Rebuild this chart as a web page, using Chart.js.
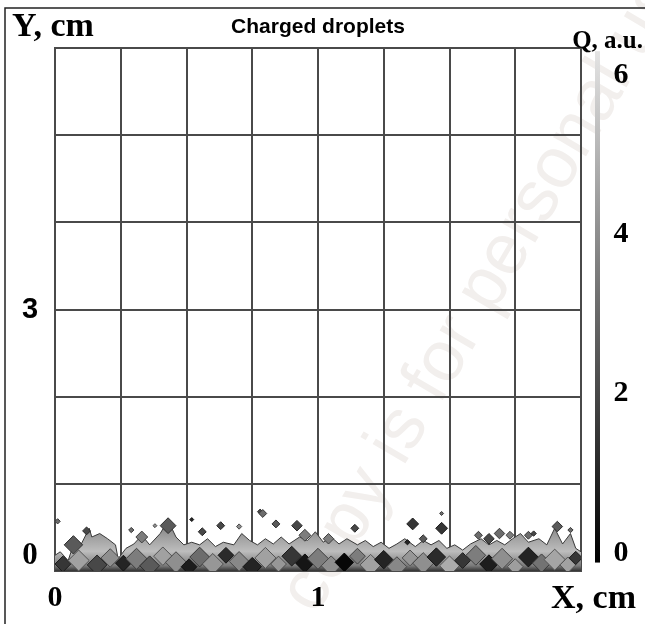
<!DOCTYPE html>
<html>
<head>
<meta charset="utf-8">
<script src="https://cdn.jsdelivr.net/npm/chart.js@4"></script>
<style>
  html, body { margin: 0; padding: 0; background: #fff; }
  #wrap { width: 645px; height: 624px; }
</style>
</head>
<body>
<div id="wrap"><canvas id="dropletChart" width="645" height="624"></canvas></div>
<script>
// axis labels
const xTickLabels = ['0', '1'];
const xTickValues = [0, 1];
const yTickLabels = ['0', '3'];
const yTickValues = [0, 3];
const qTickValues = [0, 2, 4, 6];

// upper edge of the dense droplet layer near the wall (cm)
const bandX = [0.00, 0.02, 0.05, 0.07, 0.10, 0.13, 0.14, 0.17, 0.20, 0.23, 0.24, 0.27, 0.30, 0.33, 0.36,
    0.40, 0.43, 0.46, 0.49, 0.52, 0.55, 0.58, 0.61, 0.64, 0.68, 0.71, 0.74, 0.77, 0.80, 0.83, 0.86,
    0.89, 0.93, 0.96, 0.99, 1.02, 1.05, 1.08, 1.11, 1.15, 1.18, 1.21, 1.24, 1.27, 1.30, 1.33, 1.37,
    1.40, 1.43, 1.46, 1.49, 1.52, 1.55, 1.58, 1.62, 1.65, 1.68, 1.71, 1.74, 1.77, 1.80, 1.84, 1.87,
    1.90, 1.93, 1.96, 1.98, 2.00];
const bandTop = [0.18, 0.22, 0.12, 0.30, 0.31, 0.49, 0.39, 0.43, 0.37, 0.30, 0.14, 0.26, 0.31, 0.41, 0.30,
    0.43, 0.58, 0.39, 0.30, 0.33, 0.30, 0.37, 0.28, 0.33, 0.30, 0.43, 0.35, 0.30, 0.37, 0.31, 0.39,
    0.31, 0.39, 0.35, 0.45, 0.33, 0.39, 0.31, 0.37, 0.30, 0.35, 0.28, 0.33, 0.26, 0.31, 0.37, 0.28,
    0.35, 0.30, 0.35, 0.26, 0.30, 0.24, 0.31, 0.37, 0.30, 0.35, 0.30, 0.37, 0.43, 0.33, 0.37, 0.30,
    0.49, 0.31, 0.43, 0.26, 0.22];

// individual droplets: position (cm), charge (a.u.), size (cm)
const dropX = [0.01, 0.07, 0.12, 0.29, 0.33, 0.38, 0.43, 0.52, 0.56, 0.63, 0.70, 0.78, 0.79, 0.84, 0.92,
    0.95, 1.04, 1.14, 1.36, 1.47, 1.47, 1.34, 1.40, 1.61, 1.65, 1.69, 1.73, 1.80, 1.91, 1.96, 1.82,
    0.03, 0.09, 0.16, 0.21, 0.26, 0.31, 0.36, 0.41, 0.46, 0.51, 0.55, 0.60, 0.65, 0.70, 0.75, 0.80,
    0.85, 0.90, 0.95, 1.00, 1.05, 1.10, 1.15, 1.20, 1.25, 1.30, 1.35, 1.40, 1.45, 1.50, 1.55, 1.60,
    1.65, 1.70, 1.75, 1.80, 1.85, 1.90, 1.95, 1.98];
const dropY = [0.57, 0.30, 0.46, 0.47, 0.39, 0.52, 0.52, 0.59, 0.45, 0.52, 0.51, 0.68, 0.66, 0.54, 0.52,
    0.41, 0.37, 0.49, 0.54, 0.66, 0.49, 0.33, 0.37, 0.41, 0.37, 0.43, 0.41, 0.41, 0.51, 0.47, 0.43,
    0.08, 0.12, 0.07, 0.15, 0.09, 0.14, 0.06, 0.17, 0.10, 0.05, 0.16, 0.08, 0.18, 0.11, 0.05, 0.15,
    0.08, 0.17, 0.09, 0.14, 0.06, 0.10, 0.17, 0.07, 0.13, 0.05, 0.15, 0.09, 0.16, 0.06, 0.12, 0.18,
    0.08, 0.14, 0.05, 0.16, 0.09, 0.13, 0.07, 0.15];
const dropQ = [3.0, 2.5, 2.0, 3.0, 3.5, 4.0, 2.5, 1.0, 2.0, 2.0, 4.0, 2.0, 3.0, 2.5, 2.0,
    3.5, 3.5, 2.0, 1.5, 3.0, 1.5, 1.0, 2.5, 3.0, 2.0, 3.0, 3.5, 3.0, 2.5, 3.0, 2.0,
    1.5, 4.5, 2.0, 4.0, 1.0, 3.5, 2.5, 4.5, 4.0, 0.8, 3.0, 4.2, 1.2, 3.8, 1.0, 4.5,
    4.2, 1.5, 0.6, 3.5, 4.0, 0.2, 3.5, 4.5, 1.0, 3.8, 4.2, 4.0, 1.2, 4.8, 1.5, 3.5,
    0.8, 4.0, 4.4, 1.0, 3.2, 4.6, 4.5, 1.5];
const dropSize = [0.02, 0.07, 0.03, 0.02, 0.045, 0.015, 0.06, 0.015, 0.03, 0.03, 0.02, 0.02, 0.03, 0.03, 0.04,
    0.045, 0.04, 0.03, 0.045, 0.015, 0.045, 0.02, 0.03, 0.03, 0.04, 0.04, 0.03, 0.03, 0.04, 0.02, 0.02,
    0.06, 0.08, 0.075, 0.07, 0.06, 0.08, 0.075, 0.07, 0.08, 0.06, 0.075, 0.08, 0.06, 0.075, 0.07, 0.08,
    0.06, 0.075, 0.07, 0.08, 0.075, 0.07, 0.06, 0.08, 0.07, 0.075, 0.06, 0.08, 0.07, 0.075, 0.06, 0.075,
    0.07, 0.08, 0.06, 0.075, 0.07, 0.08, 0.06, 0.05];

function qGray(q) {
    const v = Math.round(Math.max(0, Math.min(6, q)) / 6 * 215);
    return 'rgb(' + v + ',' + v + ',' + v + ')';
}

function qEdge(q) {
    const v = Math.round(Math.max(0, Math.min(6, q)) / 6 * 110);
    return 'rgb(' + v + ',' + v + ',' + v + ')';
}

const frameAndText = {
    id: 'frameAndText',
    beforeDraw(chart) {
        const ctx = chart.ctx;
        ctx.save();
        ctx.fillStyle = '#fff';
        ctx.fillRect(0, 0, chart.width, chart.height);
        // watermark
        ctx.translate(316, 616);
        ctx.rotate(-1.04);
        ctx.fillStyle = 'rgb(242, 239, 237)';
        ctx.font = '72px "Liberation Sans", Arial, sans-serif';
        ctx.textBaseline = 'alphabetic';
        ctx.fillText('copy is for personal use only', 0, 0);
        ctx.restore();

        ctx.save();
        ctx.strokeStyle = '#222';
        ctx.lineWidth = 1.5;
        ctx.beginPath();
        ctx.moveTo(5, chart.height);
        ctx.lineTo(5, 8);
        ctx.lineTo(chart.width, 8);
        ctx.stroke();
        ctx.restore();
    },
    afterDraw(chart) {
        const ctx = chart.ctx;
        const xs = chart.scales.x;
        const ys = chart.scales.y;
        const qs = chart.scales.q;
        const serif = '"Liberation Serif", "Times New Roman", serif';
        ctx.save();
        ctx.fillStyle = '#000';

        // colour bar
        const top = qs.getPixelForValue(6.3);
        const bot = qs.getPixelForValue(-0.12);
        const grad = ctx.createLinearGradient(0, bot, 0, top);
        grad.addColorStop(0, qGray(0));
        grad.addColorStop(0.5, qGray(3));
        grad.addColorStop(1, '#e4e4e4');
        ctx.fillStyle = grad;
        ctx.fillRect(595, top, 5, bot - top);

        ctx.fillStyle = '#000';
        ctx.textAlign = 'center';
        ctx.textBaseline = 'middle';
        ctx.font = 'bold 30px ' + serif;
        qTickValues.forEach(v => ctx.fillText(String(v), 621, qs.getPixelForValue(v)));

        // x ticks
        xTickValues.forEach((v, i) => ctx.fillText(xTickLabels[i], xs.getPixelForValue(v), 598));

        // y ticks
        yTickValues.forEach((v, i) => {
            ctx.font = v === 0 ? 'bold 31px ' + serif : 'bold 29px "Liberation Sans", Arial, sans-serif';
            const py = v === 0 ? ys.getPixelForValue(v) - 15 : ys.getPixelForValue(v);
            ctx.fillText(yTickLabels[i], 30, py);
        });

        // axis titles
        ctx.textBaseline = 'alphabetic';
        ctx.font = 'bold 34px ' + serif;
        ctx.textAlign = 'left';
        ctx.fillText('Y, cm', 12, 36);
        ctx.textAlign = 'right';
        ctx.fillText('X, cm', 636, 608);
        ctx.font = 'bold 25px ' + serif;
        ctx.fillText('Q, a.u.', 643, 48);

        ctx.textAlign = 'center';
        ctx.font = 'bold 21px "Liberation Sans", Arial, sans-serif';
        ctx.fillText('Charged droplets', 318, 33);
        ctx.restore();
    }
};

new Chart(document.getElementById('dropletChart'), {
    type: 'scatter',
    data: {
        datasets: [{
            type: 'line',
            label: 'layer',
            data: bandX.map((x, i) => ({ x: x, y: bandTop[i] })),
            fill: 'origin',
            tension: 0,
            pointRadius: 0,
            borderWidth: 1,
            borderColor: '#3a3a3a',
            backgroundColor: function (context) {
                const chart = context.chart;
                const area = chart.chartArea;
                if (!area) return '#888';
                const y0 = chart.scales.y.getPixelForValue(0);
                const y1 = chart.scales.y.getPixelForValue(0.5);
                const g = chart.ctx.createLinearGradient(0, y0, 0, y1);
                g.addColorStop(0, '#333333');
                g.addColorStop(0.12, '#7a7a7a');
                g.addColorStop(0.45, '#bdbdbd');
                g.addColorStop(0.75, '#a2a2a2');
                g.addColorStop(1, '#888888');
                return g;
            },
            order: 2
        }, {
            label: 'droplets',
            data: dropX.map((x, i) => ({ x: x, y: dropY[i], q: dropQ[i], s: dropSize[i] })),
            pointStyle: 'rectRot',
            pointRadius: function (context) {
                const raw = context.raw;
                const xs = context.chart.scales.x;
                return Math.abs(xs.getPixelForValue(raw.s) - xs.getPixelForValue(0)) / 2;
            },
            backgroundColor: context => qGray(context.raw.q),
            borderColor: context => qEdge(context.raw.q),
            borderWidth: 1,
            order: 1
        }]
    },
    options: {
        responsive: false,
        animation: false,
        devicePixelRatio: 1,
        layout: { padding: { left: 55, top: 48, right: 64, bottom: 53 } },
        plugins: {
            legend: { display: false },
            tooltip: { enabled: false }
        },
        scales: {
            x: {
                type: 'linear',
                min: 0,
                max: 2,
                ticks: { stepSize: 0.25, display: false },
                grid: { color: '#4a4a4a', lineWidth: 2, drawTicks: false },
                border: { display: true, color: '#4a4a4a', width: 2 }
            },
            y: {
                type: 'linear',
                min: 0,
                max: 6,
                ticks: { stepSize: 1, display: false },
                grid: { color: '#4a4a4a', lineWidth: 2, drawTicks: false },
                border: { display: true, color: '#4a4a4a', width: 2 }
            },
            q: {
                type: 'linear',
                position: 'right',
                display: false,
                min: -0.226,
                max: 6.34
            }
        }
    },
    plugins: [frameAndText]
});
</script>
</body>
</html>
